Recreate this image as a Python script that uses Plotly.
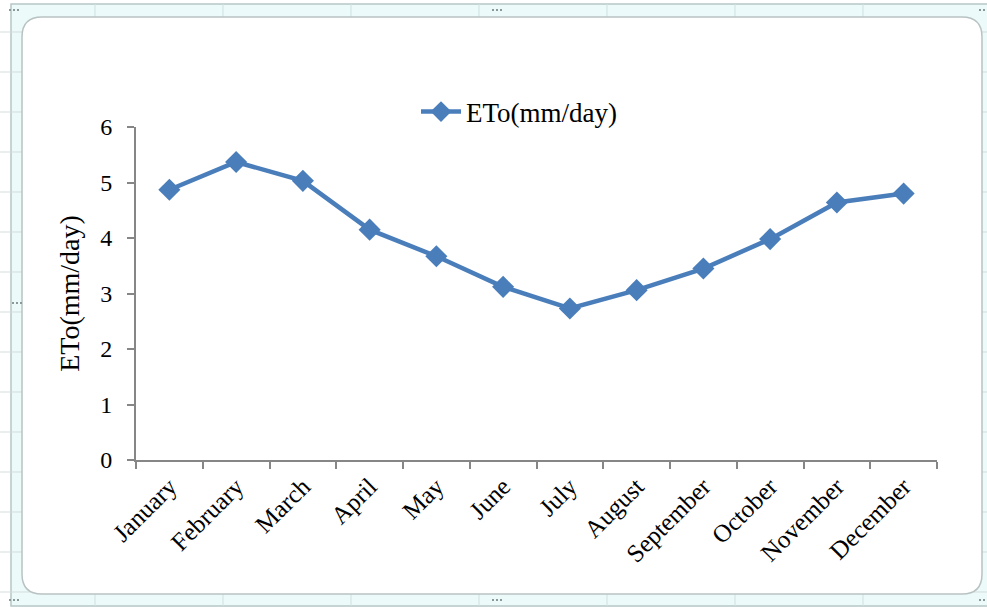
import plotly.graph_objects as go

months = ["January", "February", "March", "April", "May", "June", "July",
          "August", "September", "October", "November", "December"]
eto = [4.87, 5.37, 5.03, 4.15, 3.67, 3.12, 2.73, 3.06, 3.45, 3.98, 4.64, 4.80]
series_name = "ETo(mm/day)"
y_ticks = [0, 1, 2, 3, 4, 5, 6]

FIG_W, FIG_H = 987, 607
L, R, T, B = 136, 937, 127, 460
PW, PH = R - L, B - T

def px(x):
    return (x - L) / PW

def py(y):
    return (B - y) / PH

line_color = "#4a7ebb"
axis_color = "#868686"

fig = go.Figure()
fig.add_trace(go.Scatter(
    x=months, y=eto, name=series_name, mode="lines+markers",
    line=dict(color=line_color, width=4.5),
    marker=dict(symbol="diamond", size=17, color=line_color),
))

shapes = []
# outer cyan frame strip
shapes.append(dict(type="rect", xref="paper", yref="paper",
                   x0=px(11), x1=px(995), y0=py(606), y1=py(4),
                   fillcolor="#ecfafa", line=dict(color="#b7c6c6", width=1.5), layer="below"))
# spreadsheet grid lines in strip
for gx in range(95, 990, 128):
    shapes.append(dict(type="line", xref="paper", yref="paper",
                       x0=px(gx), x1=px(gx), y0=py(606), y1=py(4),
                       line=dict(color="#cfe0e0", width=1), layer="below"))
for gy in range(32, 607, 40):
    shapes.append(dict(type="line", xref="paper", yref="paper",
                       x0=px(0), x1=px(995), y0=py(gy), y1=py(gy),
                       line=dict(color="#d3dddd", width=1), layer="below"))

# inner white rounded rect
x0, x1, y0, y1, r = 22, 982, 17, 594, 20
def P(x, y):
    return f"{px(x):.5f},{py(y):.5f}"
path = (f"M {P(x0 + r, y0)} L {P(x1 - r, y0)} Q {P(x1, y0)} {P(x1, y0 + r)} "
        f"L {P(x1, y1 - r)} Q {P(x1, y1)} {P(x1 - r, y1)} "
        f"L {P(x0 + r, y1)} Q {P(x0, y1)} {P(x0, y1 - r)} "
        f"L {P(x0, y0 + r)} Q {P(x0, y0)} {P(x0 + r, y0)} Z")
shapes.append(dict(type="path", xref="paper", yref="paper", path=path,
                   fillcolor="white", line=dict(color="#b9c2c2", width=1.5), layer="below"))

# handle dots
for hx, hy in [(497, 10), (17, 303), (497, 600), (14, 10), (984, 10), (14, 600), (984, 600)]:
    for dx in (-4, 0, 4):
        shapes.append(dict(type="rect", xref="paper", yref="paper",
                           x0=px(hx + dx - 1), x1=px(hx + dx + 1),
                           y0=py(hy + 1), y1=py(hy - 1),
                           fillcolor="#8a9a9a", line=dict(width=0), layer="below"))

fig.update_layout(
    width=FIG_W, height=FIG_H,
    margin=dict(l=L, r=FIG_W - R, t=T, b=FIG_H - B, pad=0),
    paper_bgcolor="white", plot_bgcolor="rgba(0,0,0,0)",
    font=dict(family="Liberation Serif, Times New Roman, serif", color="black", size=22),
    shapes=shapes,
    showlegend=True,
    legend=dict(orientation="h", x=px(416), xanchor="left", y=py(112), yanchor="middle",
                bgcolor="rgba(0,0,0,0)", font=dict(size=27), itemwidth=40),
    xaxis=dict(
        type="category", showgrid=False, showline=True, linecolor=axis_color, linewidth=2,
        ticks="outside", tickson="boundaries", ticklen=7, tickwidth=2, tickcolor=axis_color,
        tickangle=-45, tickfont=dict(size=25), range=[-0.5, 11.5], zeroline=False,
    ),
    yaxis=dict(
        range=[0, 6], tickvals=y_ticks, showgrid=False, showline=True, linecolor=axis_color,
        linewidth=2, ticks="outside", ticklen=7, tickwidth=2, tickcolor=axis_color,
        tickfont=dict(size=24), zeroline=False, ticklabelstandoff=10,
        title=dict(text=series_name, font=dict(size=28), standoff=12),
    ),
)

fig.write_html("out.html")
